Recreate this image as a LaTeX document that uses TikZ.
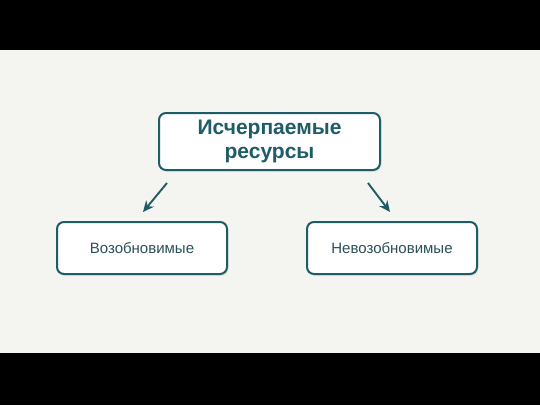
\documentclass[tikz,border=0pt]{standalone}
\usepackage{fontspec}
\setmainfont{Liberation Sans}
\usetikzlibrary{arrows.meta,shadows}
\definecolor{teal1}{HTML}{1E5C67}
\definecolor{txt2}{HTML}{2A5058}
\definecolor{bg}{HTML}{F4F4F0}
\tikzset{
  box/.style={draw=teal1, line width=2pt, rounded corners=7pt, fill=white, align=center,
    drop shadow={shadow xshift=1.5pt, shadow yshift=-2pt, opacity=0.12}},
  arr/.style={draw=teal1, line width=1.9pt, -{Stealth[length=11pt,width=10pt]}}
}
\begin{document}
\begin{tikzpicture}[x=1pt,y=-1pt]
\useasboundingbox (0,0) rectangle (540,405);
\fill[black] (0,0) rectangle (540,50);
\fill[bg] (0,50) rectangle (540,353);
\fill[black] (0,353) rectangle (540,405);
\node[box, minimum width=221pt, minimum height=57pt, text=teal1, font=\bfseries\fontsize{21}{24}\selectfont] (top) at (269.5,141.5) {Исчерпаемые\\ресурсы};
\node[box, minimum width=170pt, minimum height=52pt, text=txt2, font=\fontsize{15}{17}\selectfont] (left) at (142,248) {Возобновимые};
\node[box, minimum width=170pt, minimum height=52pt, text=txt2, font=\fontsize{15}{17}\selectfont] (right) at (392,248) {Невозобновимые};
\coordinate (a1) at (167,183);
\coordinate (a2) at (143,212);
\coordinate (b1) at (368,183);
\coordinate (b2) at (390,212);
\draw[arr] (a1) -- (a2);
\draw[arr] (b1) -- (b2);
\end{tikzpicture}
\end{document}
